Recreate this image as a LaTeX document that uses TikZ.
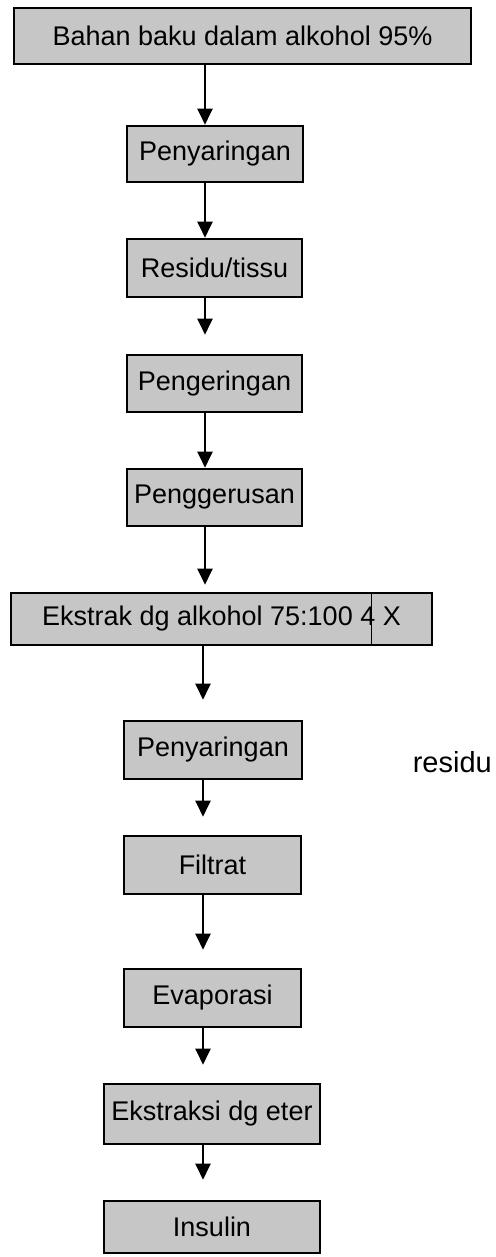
\documentclass[tikz,border=0pt]{standalone}
\usepackage{fontspec}
\setmainfont{Liberation Sans}
\usetikzlibrary{arrows.meta}
\tikzset{
  stage/.style = {draw, line width=2.6pt, fill=gray!45, inner sep=0pt,
                  font=\fontsize{27}{32}\selectfont},
  sidenote/.style = {inner sep=0pt, font=\fontsize{29}{34}\selectfont},
  flow/.style  = {line width=2.2pt, -{Triangle[length=16pt,width=15pt]}},
}

\begin{document}
\begin{tikzpicture}[x=1pt,y=-1pt]
  \useasboundingbox (0,0) rectangle (495,1257);
  % process boxes
  \node[stage, minimum width=457pt, minimum height=56pt] (bahan)   at (242.5,36)  {Bahan baku dalam alkohol 95\%};
  \node[stage, minimum width=176pt, minimum height=56pt] (saringA) at (215,154)   {Penyaringan};
  \node[stage, minimum width=175pt, minimum height=58pt] (tissu)   at (214.5,268) {Residu/tissu};
  \node[stage, minimum width=175pt, minimum height=57pt] (kering)  at (214.5,383.5) {Pengeringan};
  \node[stage, minimum width=175pt, minimum height=57pt] (gerus)   at (214.5,497.5) {Penggerusan};
  \node[stage, minimum width=421pt, minimum height=52pt] (ekstrak) at (221.5,619)  {Ekstrak dg alkohol 75:100 4 X};
  \node[stage, minimum width=178pt, minimum height=58pt] (saringB) at (213,750)   {Penyaringan};
  \node[stage, minimum width=177pt, minimum height=58pt] (filtrat) at (212.5,865) {Filtrat};
  \node[stage, minimum width=177pt, minimum height=58pt] (evap)    at (212.5,998) {Evaporasi};
  \node[stage, minimum width=216pt, minimum height=60pt] (eter)    at (212,1114)  {Ekstraksi dg eter};
  \node[stage, minimum width=216pt, minimum height=52pt] (insulin) at (212,1227)  {Insulin};
  \node[sidenote, anchor=base east] (sisa) at (492,772) {residu};
  % scan line in the extraction box
  \coordinate (cut) at (371,0);
  \draw[line width=0.8pt] (ekstrak.north -| cut) -- (ekstrak.south -| cut);
  % connectors
  \coordinate (up) at (205,0);
  \coordinate (lo) at (203,0);
  \draw[flow] (bahan.south -| up) -- (saringA.north -| up);
  \draw[flow] (saringA.south -| up) -- (tissu.north -| up);
  \draw[flow, shorten >=19pt] (tissu.south -| up) -- (kering.north -| up);
  \draw[flow] (kering.south -| up) -- (gerus.north -| up);
  \draw[flow, shorten >=7pt] (gerus.south -| up) -- (ekstrak.north -| up);
  \draw[flow, shorten >=20pt] (ekstrak.south -| lo) -- (saringB.north -| lo);
  \draw[flow, shorten >=18pt] (saringB.south -| lo) -- (filtrat.north -| lo);
  \draw[flow, shorten >=18pt] (filtrat.south -| lo) -- (evap.north -| lo);
  \draw[flow, shorten >=18pt] (evap.south -| lo) -- (eter.north -| lo);
  \draw[flow, shorten >=20pt] (eter.south -| lo) -- (insulin.north -| lo);
\end{tikzpicture}
\end{document}
